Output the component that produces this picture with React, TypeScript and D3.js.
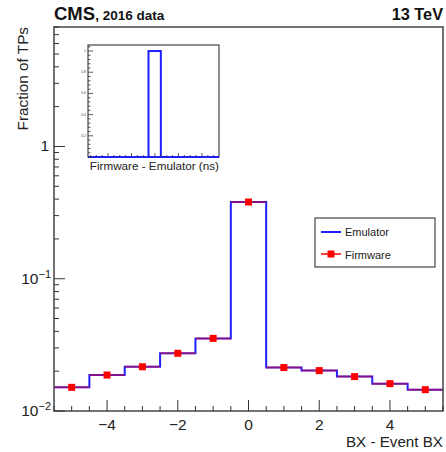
import React, { useEffect, useRef } from 'react';
import * as d3 from 'd3';

// BX - Event BX bins
const bins = [-5, -4, -3, -2, -1, 0, 1, 2, 3, 4, 5];
const emulator = [0.0151, 0.0187, 0.0216, 0.0273, 0.0354, 0.38, 0.0213, 0.0202, 0.0182, 0.0161, 0.0145];
const firmware = [0.0151, 0.0187, 0.0216, 0.0273, 0.0354, 0.38, 0.0213, 0.0202, 0.0182, 0.0161, 0.0145];
const xTicks = [-4, -2, 0, 2, 4];

// inset: Firmware - Emulator (ns)
const insetBins = [0];
const insetValues = [1];
const insetYTicks = [0.2, 0.4, 0.6, 0.8, 1];
const insetXTicks = [-4, -2, 0, 2, 4];

const App = () => {
  const ref = useRef<SVGSVGElement>(null);

  useEffect(() => {
    const svg = d3.select(ref.current);
    svg.selectAll('*').remove();

    const width = 446;
    const height = 452;
    const margin = { top: 27, right: 3, bottom: 41, left: 54 };
    const font = 'Liberation Sans, Arial, sans-serif';

    const x = d3.scaleLinear().domain([-5.5, 5.5]).range([margin.left, width - margin.right]);
    const y = d3.scaleLog().domain([0.01, 8]).range([height - margin.bottom, margin.top]);

    svg.append('rect')
      .attr('width', width).attr('height', height).attr('fill', 'white');

    // emulator histogram (steps)
    const steps: [number, number][] = [];
    bins.forEach((b, i) => {
      steps.push([b - 0.5, emulator[i]]);
      steps.push([b + 0.5, emulator[i]]);
    });
    svg.append('path')
      .datum(steps)
      .attr('fill', 'none')
      .attr('stroke', '#2020ff')
      .attr('stroke-width', 2)
      .attr('d', d3.line<[number, number]>().x(d => x(d[0])).y(d => y(d[1])));

    // firmware: x error bars + markers
    svg.append('g')
      .selectAll('line')
      .data(bins)
      .join('line')
        .attr('x1', d => x(d - 0.5))
        .attr('x2', d => x(d + 0.5))
        .attr('y1', (d, i) => y(firmware[i]))
        .attr('y2', (d, i) => y(firmware[i]))
        .attr('stroke', '#ff0000')
        .attr('stroke-opacity', 0.45)
        .attr('stroke-width', 2);

    svg.append('g')
      .selectAll('rect')
      .data(bins)
      .join('rect')
        .attr('x', d => x(d) - 3.5)
        .attr('y', (d, i) => y(firmware[i]) - 3.5)
        .attr('width', 7)
        .attr('height', 7)
        .attr('fill', '#ff0000');

    // frame
    svg.append('rect')
      .attr('x', margin.left).attr('y', margin.top)
      .attr('width', width - margin.right - margin.left)
      .attr('height', height - margin.bottom - margin.top)
      .attr('fill', 'none').attr('stroke', '#444').attr('stroke-width', 1.5);

    // x axis ticks
    const xAxis = svg.append('g');
    const minor = d3.range(-5.5, 5.51, 0.5);
    xAxis.selectAll('line.minor')
      .data(minor)
      .join('line')
        .attr('x1', d => x(d)).attr('x2', d => x(d))
        .attr('y1', y(0.01)).attr('y2', d => y(0.01) - (xTicks.includes(d) ? 11 : 5))
        .attr('stroke', '#333').attr('stroke-width', 1);
    xAxis.selectAll('text')
      .data(xTicks)
      .join('text')
        .attr('x', d => x(d))
        .attr('y', y(0.01) + 19)
        .attr('text-anchor', 'middle')
        .attr('font-family', font)
        .attr('font-size', 15.5)
        .attr('fill', '#222')
        .text(d => (d < 0 ? '\u2212' + Math.abs(d) : String(d)));
    svg.append('text')
      .attr('x', width - margin.right)
      .attr('y', height - 5)
      .attr('text-anchor', 'end')
      .attr('font-family', font)
      .attr('font-size', 15.2)
      .attr('fill', '#222')
      .text('BX - Event BX');

    // y axis ticks (log)
    const yMinor: number[] = [];
    [0.01, 0.1, 1].forEach(dec => {
      for (let k = 1; k <= 9; k++) {
        const v = dec * k;
        if (v <= 8) yMinor.push(v);
      }
    });
    const majors = [0.01, 0.1, 1];
    svg.append('g')
      .selectAll('line')
      .data(yMinor)
      .join('line')
        .attr('x1', margin.left)
        .attr('x2', d => margin.left + (majors.some(m => Math.abs(m - d) < 1e-9) ? 11 : 5))
        .attr('y1', d => y(d)).attr('y2', d => y(d))
        .attr('stroke', '#333').attr('stroke-width', 1);
    const yLab = svg.append('g')
      .attr('font-family', font).attr('font-size', 15.5).attr('fill', '#222');
    yLab.append('text')
      .attr('x', margin.left - 5).attr('y', y(1) + 5)
      .attr('text-anchor', 'end').text('1');
    [[0.1, '\u22121'], [0.01, '\u22122']].forEach(([v, e]) => {
      const t = yLab.append('text')
        .attr('x', margin.left - 3).attr('y', y(v as number) + 5)
        .attr('text-anchor', 'end');
      t.append('tspan').text('10');
      t.append('tspan').attr('dy', -6).attr('font-size', 11).text(e as string);
    });
    svg.append('text')
      .attr('transform', `translate(28,${margin.top}) rotate(-90)`)
      .attr('text-anchor', 'end')
      .attr('font-family', font)
      .attr('font-size', 15.3)
      .attr('fill', '#222')
      .text('Fraction of TPs');

    // header
    const head = svg.append('text')
      .attr('x', margin.left).attr('y', 20)
      .attr('font-family', font).attr('font-weight', 'bold').attr('fill', '#111');
    head.append('tspan').attr('font-size', 18.5).text('CMS');
    head.append('tspan').attr('font-size', 13.5).text(', 2016 data');
    svg.append('text')
      .attr('x', width - margin.right).attr('y', 20)
      .attr('text-anchor', 'end')
      .attr('font-family', font).attr('font-weight', 'bold')
      .attr('font-size', 16.3).attr('fill', '#111')
      .text('13 TeV');

    // legend
    const lg = svg.append('g');
    lg.append('rect')
      .attr('x', 315).attr('y', 218).attr('width', 120).attr('height', 49)
      .attr('fill', 'white').attr('stroke', '#444').attr('stroke-width', 1.2);
    lg.append('line')
      .attr('x1', 321).attr('x2', 341).attr('y1', 232).attr('y2', 232)
      .attr('stroke', '#2020ff').attr('stroke-width', 2);
    lg.append('line')
      .attr('x1', 321).attr('x2', 341).attr('y1', 254).attr('y2', 254)
      .attr('stroke', '#ff0000').attr('stroke-width', 1.5);
    lg.append('rect')
      .attr('x', 327.5).attr('y', 250.5).attr('width', 7).attr('height', 7)
      .attr('fill', '#ff0000');
    lg.append('text')
      .attr('x', 345).attr('y', 236)
      .attr('font-family', font).attr('font-size', 11).attr('fill', '#222')
      .text('Emulator');
    lg.append('text')
      .attr('x', 345).attr('y', 259)
      .attr('font-family', font).attr('font-size', 11).attr('fill', '#222')
      .text('Firmware');

    // inset
    const ix = d3.scaleLinear().domain([-5.7, 5.45]).range([88, 219]);
    const iy = d3.scaleLinear().domain([0, 1.057]).range([157, 45]);
    const inset = svg.append('g');
    inset.append('rect')
      .attr('x', 88).attr('y', 45).attr('width', 131).attr('height', 112)
      .attr('fill', 'white').attr('stroke', '#444').attr('stroke-width', 1.2);
    inset.selectAll('rect.bar')
      .data(insetBins)
      .join('rect')
        .attr('class', 'bar')
        .attr('x', d => ix(d - 0.55))
        .attr('y', (d, i) => iy(insetValues[i]))
        .attr('width', d => ix(d + 0.5) - ix(d - 0.55))
        .attr('height', (d, i) => iy(0) - iy(insetValues[i]))
        .attr('fill', 'none')
        .attr('stroke', '#2020ff')
        .attr('stroke-width', 2);
    inset.append('line')
      .attr('x1', 88).attr('x2', 219).attr('y1', iy(0)).attr('y2', iy(0))
      .attr('stroke', '#2020ff').attr('stroke-width', 2);
    inset.selectAll('line.ym')
      .data(d3.range(0, 1.05, 0.04))
      .join('line')
        .attr('class', 'ym')
        .attr('x1', 88)
        .attr('x2', d => 88 + (Math.abs(d * 5 - Math.round(d * 5)) < 1e-6 ? 5 : 2.5))
        .attr('y1', d => iy(d)).attr('y2', d => iy(d))
        .attr('stroke', '#333').attr('stroke-width', 0.8);
    inset.selectAll('text.yl')
      .data(insetYTicks)
      .join('text')
        .attr('class', 'yl')
        .attr('x', 86).attr('y', d => iy(d) + 1)
        .attr('text-anchor', 'end')
        .attr('font-family', font).attr('font-size', 3.5).attr('fill', '#444')
        .text(d => String(d));
    inset.selectAll('line.xm')
      .data(d3.range(-5.5, 5.5, 0.5))
      .join('line')
        .attr('class', 'xm')
        .attr('x1', d => ix(d)).attr('x2', d => ix(d))
        .attr('y1', 157)
        .attr('y2', d => 157 - (insetXTicks.includes(d) ? 4 : 2))
        .attr('stroke', '#333').attr('stroke-width', 0.8);
    inset.append('text')
      .attr('x', 219).attr('y', 170)
      .attr('text-anchor', 'end')
      .attr('font-family', font).attr('font-size', 11.7).attr('fill', '#222')
      .text('Firmware - Emulator (ns)');
  }, []);

  return (
    <svg
      ref={ref}
      width="446"
      height="452"
      style={{ position: 'absolute', left: 0, top: 0 }}
    ></svg>
  );
};

export default App;
